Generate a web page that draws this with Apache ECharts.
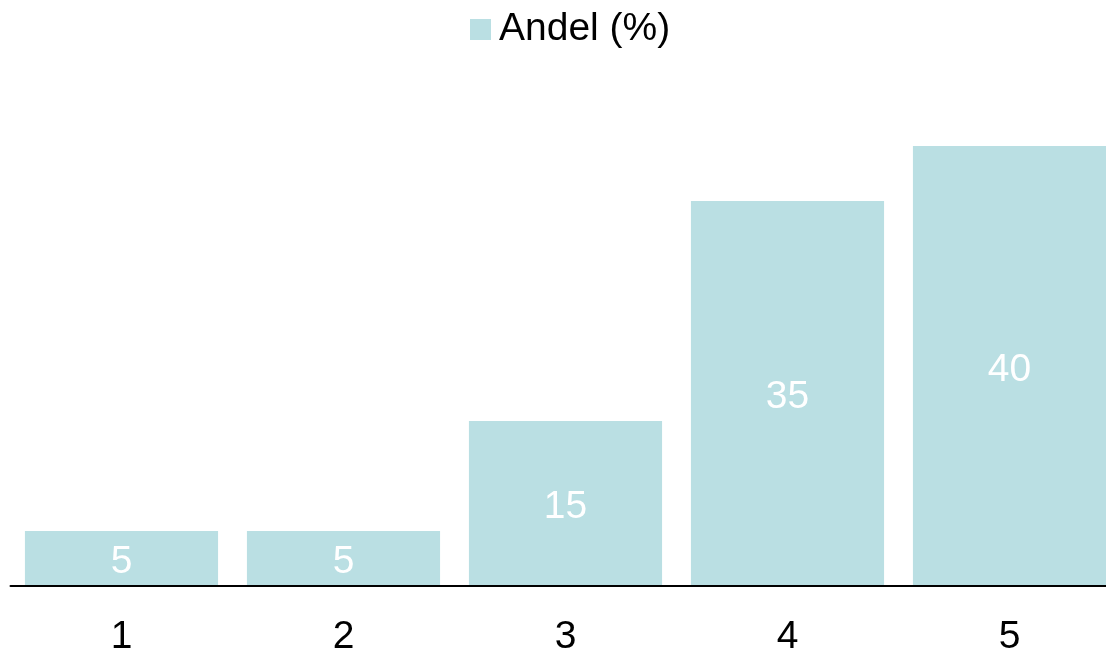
<!DOCTYPE html>
<html>
<head>
<meta charset="utf-8">
<script src="https://cdn.jsdelivr.net/npm/echarts@6/dist/echarts.min.js"></script>
<style>
  html, body { margin: 0; padding: 0; background: #fff; }
  #chart { width: 1106px; height: 651px; }
</style>
</head>
<body>
<div id="chart"></div>
<script>
// data
const categories = ['1', '2', '3', '4', '5'];
const andelValues = [5, 5, 15, 35, 40];
const seriesName = 'Andel (%)';

const chart = echarts.init(document.getElementById('chart'));
chart.setOption({
  animation: false,
  textStyle: { fontFamily: 'Liberation Sans, Arial, sans-serif' },
  legend: {
    top: 5,
    left: 465,
    itemWidth: 21,
    itemHeight: 21,
    icon: 'rect',
    textStyle: { fontSize: 39, color: '#000', padding: [0, 0, 0, 3] },
    data: [seriesName]
  },
  grid: {
    left: 10.5, width: 1110, top: 146, bottom: 65,
    containLabel: false, outerBoundsMode: 'none'
  },
  xAxis: {
    type: 'category',
    data: categories,
    z: 5,
    axisLine: { lineStyle: { color: '#000', width: 2 } },
    axisTick: { show: false },
    axisLabel: { fontSize: 39, color: '#000', margin: 32 }
  },
  yAxis: {
    type: 'value',
    min: 0,
    max: 40,
    show: false,
    splitLine: { show: false }
  },
  series: [{
    name: seriesName,
    type: 'bar',
    data: andelValues,
    barCategoryGap: '13%',
    itemStyle: { color: '#BADFE3' },
    label: {
      show: true,
      position: 'inside',
      offset: [0, 4],
      color: '#fff',
      fontSize: 39
    }
  }]
});
</script>
</body>
</html>
